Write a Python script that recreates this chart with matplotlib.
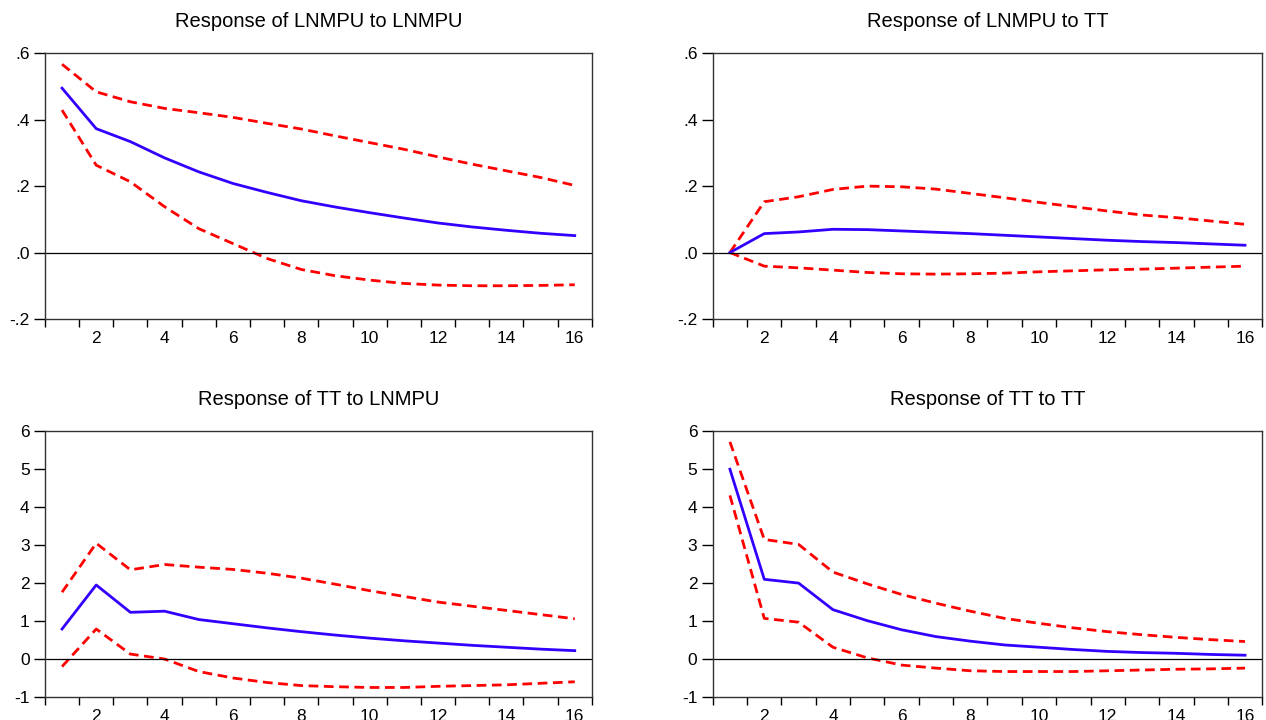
import numpy as np
import matplotlib.pyplot as plt
from matplotlib.ticker import FuncFormatter

plt.rcParams['font.family'] = ['Liberation Sans', 'DejaVu Sans']
plt.rcParams['axes.unicode_minus'] = False

periods = list(range(1, 17))

# Response of LNMPU to LNMPU
p1_mid = [0.495, 0.373, 0.334, 0.285, 0.243, 0.208, 0.181, 0.156, 0.137, 0.120, 0.104, 0.089, 0.077, 0.067, 0.058, 0.051]
p1_up = [0.567, 0.484, 0.454, 0.434, 0.421, 0.407, 0.389, 0.372, 0.351, 0.331, 0.311, 0.288, 0.266, 0.246, 0.226, 0.202]
p1_lo = [0.429, 0.263, 0.213, 0.138, 0.072, 0.027, -0.018, -0.051, -0.070, -0.083, -0.093, -0.098, -0.100, -0.100, -0.099, -0.097]

# Response of LNMPU to TT
p2_mid = [0.0, 0.057, 0.062, 0.070, 0.069, 0.065, 0.061, 0.057, 0.052, 0.047, 0.042, 0.037, 0.033, 0.030, 0.026, 0.022]
p2_up = [0.0, 0.153, 0.168, 0.190, 0.200, 0.198, 0.191, 0.178, 0.165, 0.151, 0.138, 0.125, 0.113, 0.105, 0.095, 0.085]
p2_lo = [0.0, -0.041, -0.046, -0.053, -0.060, -0.064, -0.065, -0.064, -0.062, -0.058, -0.055, -0.052, -0.050, -0.047, -0.044, -0.041]

# Response of TT to LNMPU
p3_mid = [0.79, 1.95, 1.23, 1.26, 1.04, 0.93, 0.82, 0.72, 0.63, 0.55, 0.48, 0.42, 0.36, 0.31, 0.26, 0.22]
p3_up = [1.76, 3.05, 2.35, 2.49, 2.42, 2.36, 2.26, 2.13, 1.97, 1.80, 1.65, 1.50, 1.39, 1.28, 1.17, 1.06]
p3_lo = [-0.20, 0.79, 0.13, 0.0, -0.33, -0.50, -0.62, -0.70, -0.73, -0.75, -0.75, -0.72, -0.70, -0.68, -0.64, -0.60]

# Response of TT to TT
p4_mid = [5.0, 2.10, 2.00, 1.30, 1.01, 0.77, 0.59, 0.47, 0.37, 0.31, 0.25, 0.20, 0.17, 0.15, 0.12, 0.10]
p4_up = [5.72, 3.15, 3.02, 2.29, 1.98, 1.70, 1.47, 1.26, 1.07, 0.94, 0.82, 0.72, 0.64, 0.57, 0.51, 0.46]
p4_lo = [4.31, 1.07, 0.97, 0.31, 0.03, -0.16, -0.24, -0.31, -0.33, -0.33, -0.33, -0.31, -0.29, -0.27, -0.26, -0.24]

titles = ["Response of LNMPU to LNMPU", "Response of LNMPU to TT",
          "Response of TT to LNMPU", "Response of TT to TT"]
mids = [p1_mid, p2_mid, p3_mid, p4_mid]
ups = [p1_up, p2_up, p3_up, p4_up]
los = [p1_lo, p2_lo, p3_lo, p4_lo]


def dot_fmt(v, pos):
    s = "%.1f" % v
    if s.startswith("0."):
        s = s[1:]
    elif s.startswith("-0."):
        s = "-" + s[2:]
    return s


fig = plt.figure(figsize=(12.66, 7.2), dpi=100)
boxes = [[0.0355, 0.557, 0.432, 0.369], [0.563, 0.557, 0.434, 0.369],
         [0.0355, 0.032, 0.432, 0.369], [0.563, 0.032, 0.434, 0.369]]

for i in range(4):
    ax = fig.add_axes(boxes[i])
    ax.plot(periods, ups[i], color='#ff0000', lw=2, dashes=(3.5, 2))
    ax.plot(periods, los[i], color='#ff0000', lw=2, dashes=(3.5, 2))
    ax.plot(periods, mids[i], color='#3300ff', lw=2)
    ax.axhline(0, color='black', lw=0.9)
    ax.set_xlim(0.5, 16.5)
    if i < 2:
        ax.set_ylim(-0.2, 0.6)
        ax.set_yticks([-0.2, 0.0, 0.2, 0.4, 0.6])
        ax.yaxis.set_major_formatter(FuncFormatter(dot_fmt))
    else:
        ax.set_ylim(-1, 6)
        ax.set_yticks(range(-1, 7))
    ax.set_xticks(range(2, 17, 2))
    ax.set_xticks(np.arange(0.5, 17, 1.0), minor=True)
    ax.tick_params(axis='x', which='major', length=0, pad=9, labelsize=12.5)
    ax.tick_params(axis='x', which='minor', length=6, direction='out', width=1)
    ax.tick_params(axis='y', length=8, direction='out', width=1, labelsize=12.5, pad=3)
    for sp in ax.spines.values():
        sp.set_color('#333333')
        sp.set_linewidth(1)
    ax.set_title(titles[i], fontsize=14.5, pad=19)

plt.savefig("out.png", dpi=100)
